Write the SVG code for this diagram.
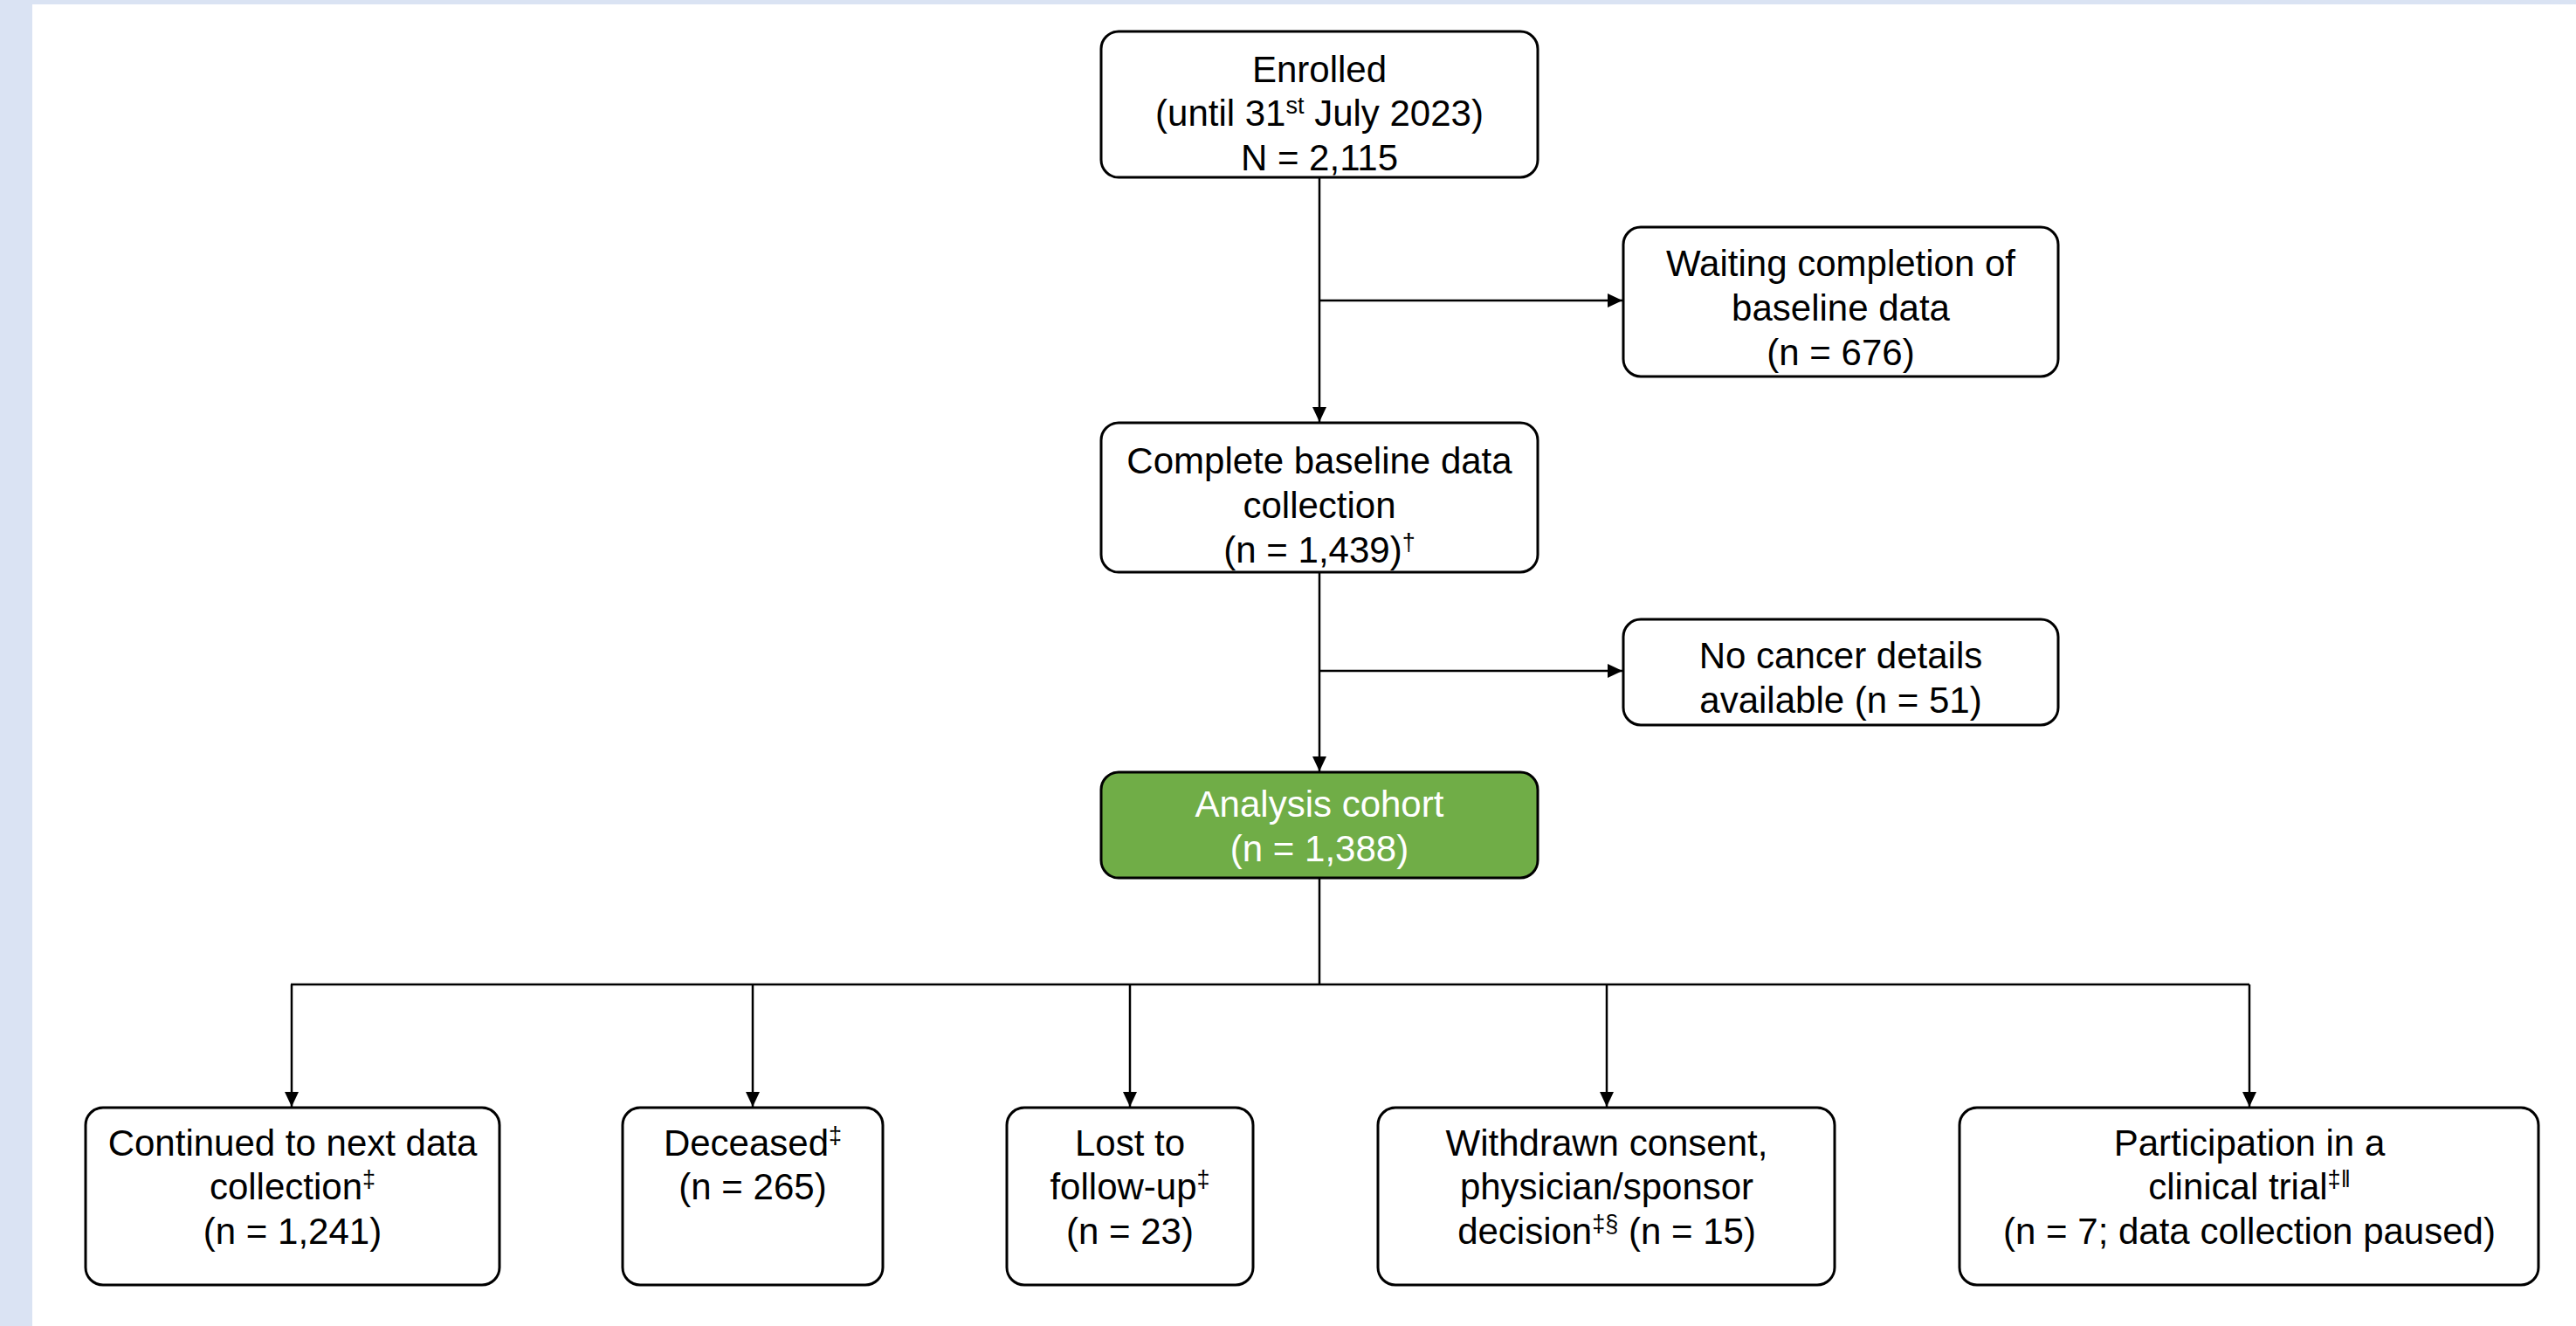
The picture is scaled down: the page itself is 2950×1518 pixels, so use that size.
<svg xmlns="http://www.w3.org/2000/svg" width="2950" height="1518" viewBox="0 0 2950 1518">
<defs>
<style>
.box{fill:#ffffff;stroke:#000000;stroke-width:3}
.green{fill:#70AD47;stroke:#000000;stroke-width:3}
.t{font-family:"Liberation Sans",Arial,sans-serif;font-size:42px;fill:#000000;text-anchor:middle}
.w{fill:#ffffff}
.sup{font-size:27px}
.conn{fill:none;stroke:#000000;stroke-width:2.5}
</style>
<marker id="ah" markerUnits="userSpaceOnUse" markerWidth="18" markerHeight="16" refX="17" refY="8" orient="auto">
<path d="M0,0 L17,8 L0,16 z" fill="#000000"/>
</marker>
</defs>
<rect x="0" y="0" width="2950" height="1518" fill="#DAE3F3"/>
<rect x="37" y="5" width="2913" height="1513" fill="#ffffff"/>

<g id="connectors">
<path class="conn" d="M1511,204 L1511,483" marker-end="url(#ah)"/>
<path class="conn" d="M1511,344 L1858,344" marker-end="url(#ah)"/>
<path class="conn" d="M1511,656 L1511,883" marker-end="url(#ah)"/>
<path class="conn" d="M1511,768 L1858,768" marker-end="url(#ah)"/>
<path class="conn" d="M1511,1006 L1511,1127"/>
<path class="conn" d="M333,1127 L2576,1127"/>
<path class="conn" d="M334,1127 L334,1267" marker-end="url(#ah)"/>
<path class="conn" d="M862,1127 L862,1267" marker-end="url(#ah)"/>
<path class="conn" d="M1294,1127 L1294,1267" marker-end="url(#ah)"/>
<path class="conn" d="M1840,1127 L1840,1267" marker-end="url(#ah)"/>
<path class="conn" d="M2576,1127 L2576,1267" marker-end="url(#ah)"/>
</g>

<g id="enrolled">
<rect class="box" x="1261" y="36" width="500" height="167" rx="20"/>
<text class="t" x="1511" y="94">Enrolled</text>
<text class="t" x="1511" y="144">(until 31<tspan class="sup" dy="-14">st</tspan><tspan dy="14"> July 2023)</tspan></text>
<text class="t" x="1511" y="195">N = 2,115</text>
</g>

<g id="waiting">
<rect class="box" x="1859" y="260" width="498" height="171" rx="20"/>
<text class="t" x="2108" y="316">Waiting completion of</text>
<text class="t" x="2108" y="367">baseline data</text>
<text class="t" x="2108" y="418">(n = 676)</text>
</g>

<g id="complete">
<rect class="box" x="1261" y="484" width="500" height="171" rx="20"/>
<text class="t" x="1511" y="542">Complete baseline data</text>
<text class="t" x="1511" y="593">collection</text>
<text class="t" x="1511" y="644">(n = 1,439)<tspan class="sup" dy="-14">†</tspan></text>
</g>

<g id="nocancer">
<rect class="box" x="1859" y="709" width="498" height="121" rx="20"/>
<text class="t" x="2108" y="765">No cancer details</text>
<text class="t" x="2108" y="816">available (n = 51)</text>
</g>

<g id="analysis">
<rect class="green" x="1261" y="884" width="500" height="121" rx="20"/>
<text class="t w" x="1511" y="935">Analysis cohort</text>
<text class="t w" x="1511" y="986">(n = 1,388)</text>
</g>

<g id="continued">
<rect class="box" x="98" y="1268" width="474" height="203" rx="20"/>
<text class="t" x="335" y="1323">Continued to next data</text>
<text class="t" x="335" y="1373">collection<tspan class="sup" dy="-14">‡</tspan></text>
<text class="t" x="335" y="1424">(n = 1,241)</text>
</g>

<g id="deceased">
<rect class="box" x="713" y="1268" width="298" height="203" rx="20"/>
<text class="t" x="862" y="1323">Deceased<tspan class="sup" dy="-14">‡</tspan></text>
<text class="t" x="862" y="1373">(n = 265)</text>
</g>

<g id="lost">
<rect class="box" x="1153" y="1268" width="282" height="203" rx="20"/>
<text class="t" x="1294" y="1323">Lost to</text>
<text class="t" x="1294" y="1373">follow-up<tspan class="sup" dy="-14">‡</tspan></text>
<text class="t" x="1294" y="1424">(n = 23)</text>
</g>

<g id="withdrawn">
<rect class="box" x="1578" y="1268" width="523" height="203" rx="20"/>
<text class="t" x="1840" y="1323">Withdrawn consent,</text>
<text class="t" x="1840" y="1373">physician/sponsor</text>
<text class="t" x="1840" y="1424">decision<tspan class="sup" dy="-14">‡§</tspan><tspan dy="14"> (n = 15)</tspan></text>
</g>

<g id="trial">
<rect class="box" x="2244" y="1268" width="663" height="203" rx="20"/>
<text class="t" x="2576" y="1323">Participation in a</text>
<text class="t" x="2576" y="1373">clinical trial<tspan class="sup" dy="-14">‡‖</tspan></text>
<text class="t" x="2576" y="1424">(n = 7; data collection paused)</text>
</g>
</svg>
